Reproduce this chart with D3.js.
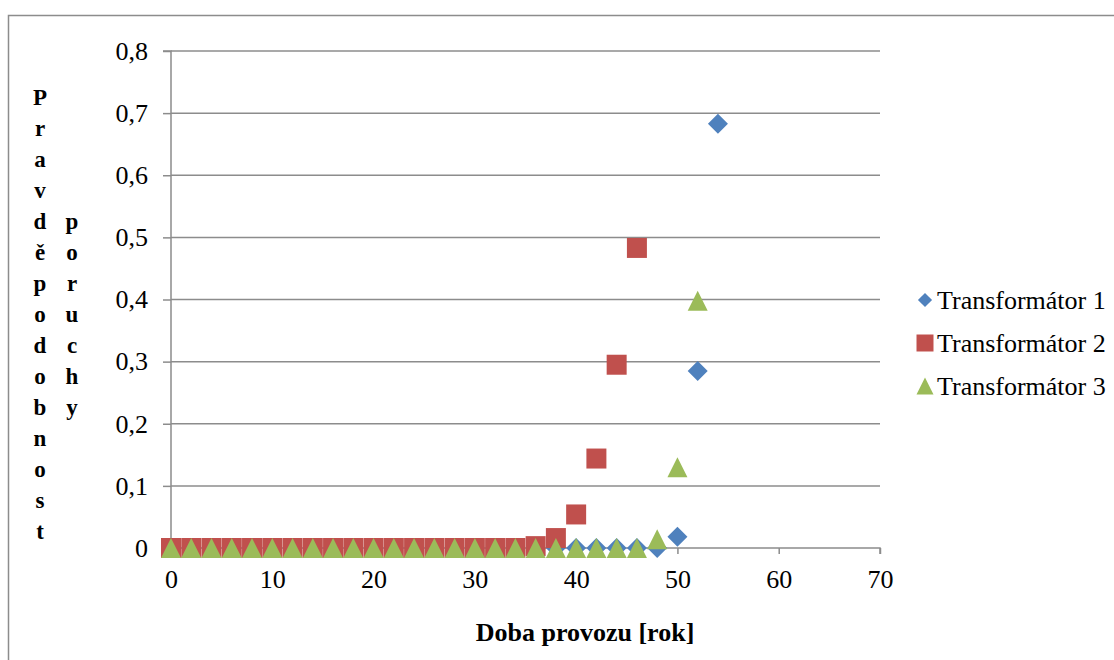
<!DOCTYPE html>
<html><head><meta charset="utf-8">
<script src="https://cdn.jsdelivr.net/npm/d3@7"></script>
<style>body{margin:0;background:#fff}svg{display:block}
svg text{font-family:"Liberation Serif","Times New Roman","DejaVu Serif",serif !important}</style>
</head><body>
<script>
const xTicks = [0,10,20,30,40,50,60,70];
const yTicks = [0,0.1,0.2,0.3,0.4,0.5,0.6,0.7,0.8];
const seriesNames = ["Transformátor 1","Transformátor 2","Transformátor 3"];
const t1x = [0,2,4,6,8,10,12,14,16,18,20,22,24,26,28,30,32,34,36,38,40,42,44,46,48,50,52,54];
const t1y = [0,0,0,0,0,0,0,0,0,0,0,0,0,0,0,0,0,0,0,0,0,0,0,0,0,0.018,0.285,0.683];
const t2x = [0,2,4,6,8,10,12,14,16,18,20,22,24,26,28,30,32,34,36,38,40,42,44,46];
const t2y = [0,0,0,0,0,0,0,0,0,0,0,0,0,0,0,0,0,0,0.003,0.016,0.054,0.144,0.295,0.483];
const t3x = [0,2,4,6,8,10,12,14,16,18,20,22,24,26,28,30,32,34,36,38,40,42,44,46,48,50,52];
const t3y = [0,0,0,0,0,0,0,0,0,0,0,0,0,0,0,0,0,0,0,0,0,0,0,0,0.014,0.130,0.398];
const yTitle1 = "Pravděpodobnost";
const yTitle2 = "poruchy";
const xTitle = "Doba provozu [rok]";

const W=1114,H=660;
const FONT='"Liberation Serif","Times New Roman","DejaVu Serif",serif';
const FS=26;
const colors=["#4F81BD","#C0504D","#9BBB59"];
const tri={draw(ctx,size){const s=Math.sqrt(size)/2;ctx.moveTo(0,-s);ctx.lineTo(s,s);ctx.lineTo(-s,s);ctx.closePath();}};
const shapes=[d3.symbolSquare, d3.symbolSquare, tri];
const rot=[" rotate(45)","",""];
const svg=d3.select("body").append("svg").attr("width",W).attr("height",H).attr("font-family",FONT);
svg.append("rect").attr("x",8.5).attr("y",15.5).attr("width",1200).attr("height",700)
  .attr("fill","#fff").attr("stroke","#8c8c8c").attr("stroke-width",1.5);

const x=d3.scaleLinear().domain([0,70]).range([171,880]);
const y=d3.scaleLinear().domain([0,0.8]).range([548,51]);
const gridCol="#8c8c8c";

svg.append("g").selectAll("line").data(yTicks.filter(d=>d>0)).join("line")
  .attr("x1",x(0)).attr("x2",x(70)).attr("y1",d=>y(d)).attr("y2",d=>y(d))
  .attr("stroke",gridCol).attr("stroke-width",1.5);

const ya=svg.append("g").attr("transform",`translate(${x(0)},0)`)
  .call(d3.axisLeft(y).tickValues(yTicks).tickSize(8).tickPadding(15)
    .tickFormat(d=>d===0?"0":d3.format(".1f")(d).replace(".",",")));
ya.attr("font-family",FONT);
ya.select(".domain").attr("stroke",gridCol).attr("stroke-width",1.5).attr("d",`M-8,${y(0.8)}H0V${y(0)}`);
ya.selectAll(".tick line").attr("stroke",gridCol).attr("stroke-width",1.5);
ya.selectAll("text").attr("font-size",FS).attr("fill","#000").attr("font-family",FONT);

const xa=svg.append("g").attr("transform",`translate(0,${y(0)})`)
  .call(d3.axisBottom(x).tickValues(xTicks).tickSize(6).tickPadding(16).tickFormat(d3.format("d")));
xa.attr("font-family",FONT);
xa.select(".domain").attr("stroke",gridCol).attr("stroke-width",1.5).attr("d",`M${x(0)},0H${x(70)}V6`);
xa.selectAll(".tick line").attr("stroke",gridCol).attr("stroke-width",1.5);
xa.selectAll("text").attr("font-size",FS).attr("fill","#000").attr("font-family",FONT);

const sizes=[200,400,400];
const series=[[t1x,t1y],[t2x,t2y],[t3x,t3y]];
series.forEach((s,i)=>{
  const pts=s[0].map((v,j)=>[v,s[1][j]]);
  const sym=d3.symbol().type(shapes[i]).size(sizes[i]);
  svg.append("g").selectAll("path").data(pts).join("path")
    .attr("d",sym)
    .attr("transform",d=>`translate(${x(d[0])},${y(d[1])})`+rot[i])
    .attr("fill",colors[i]);
});

const lg=svg.append("g");
seriesNames.forEach((n,i)=>{
  const ly=300+i*43;
  const lsz=[100,289,289][i];
  lg.append("path").attr("d",d3.symbol().type(shapes[i]).size(lsz)())
    .attr("transform",`translate(925,${ly})`+rot[i])
    .attr("fill",colors[i]);
  lg.append("text").attr("x",937).attr("y",ly+9).attr("font-size",FS).attr("fill","#000")
    .attr("font-family",FONT).text(n);
});

svg.append("text").attr("x",585).attr("y",641).attr("text-anchor","middle").attr("font-family",FONT)
  .attr("font-size",FS).attr("font-weight","bold").text(xTitle);
const col1=yTitle1.split(""), col2=yTitle2.split("");
const rowH=31, startY=97;
col1.forEach((c,i)=>svg.append("text").attr("x",40).attr("y",startY+i*rowH+8).attr("text-anchor","middle")
  .attr("font-family",FONT).attr("font-size",23).attr("font-weight","bold").text(c));
const off=(col1.length-col2.length)/2;
col2.forEach((c,i)=>svg.append("text").attr("x",72).attr("y",startY+(i+off)*rowH+8).attr("text-anchor","middle")
  .attr("font-family",FONT).attr("font-size",23).attr("font-weight","bold").text(c));
</script>
</body></html>
